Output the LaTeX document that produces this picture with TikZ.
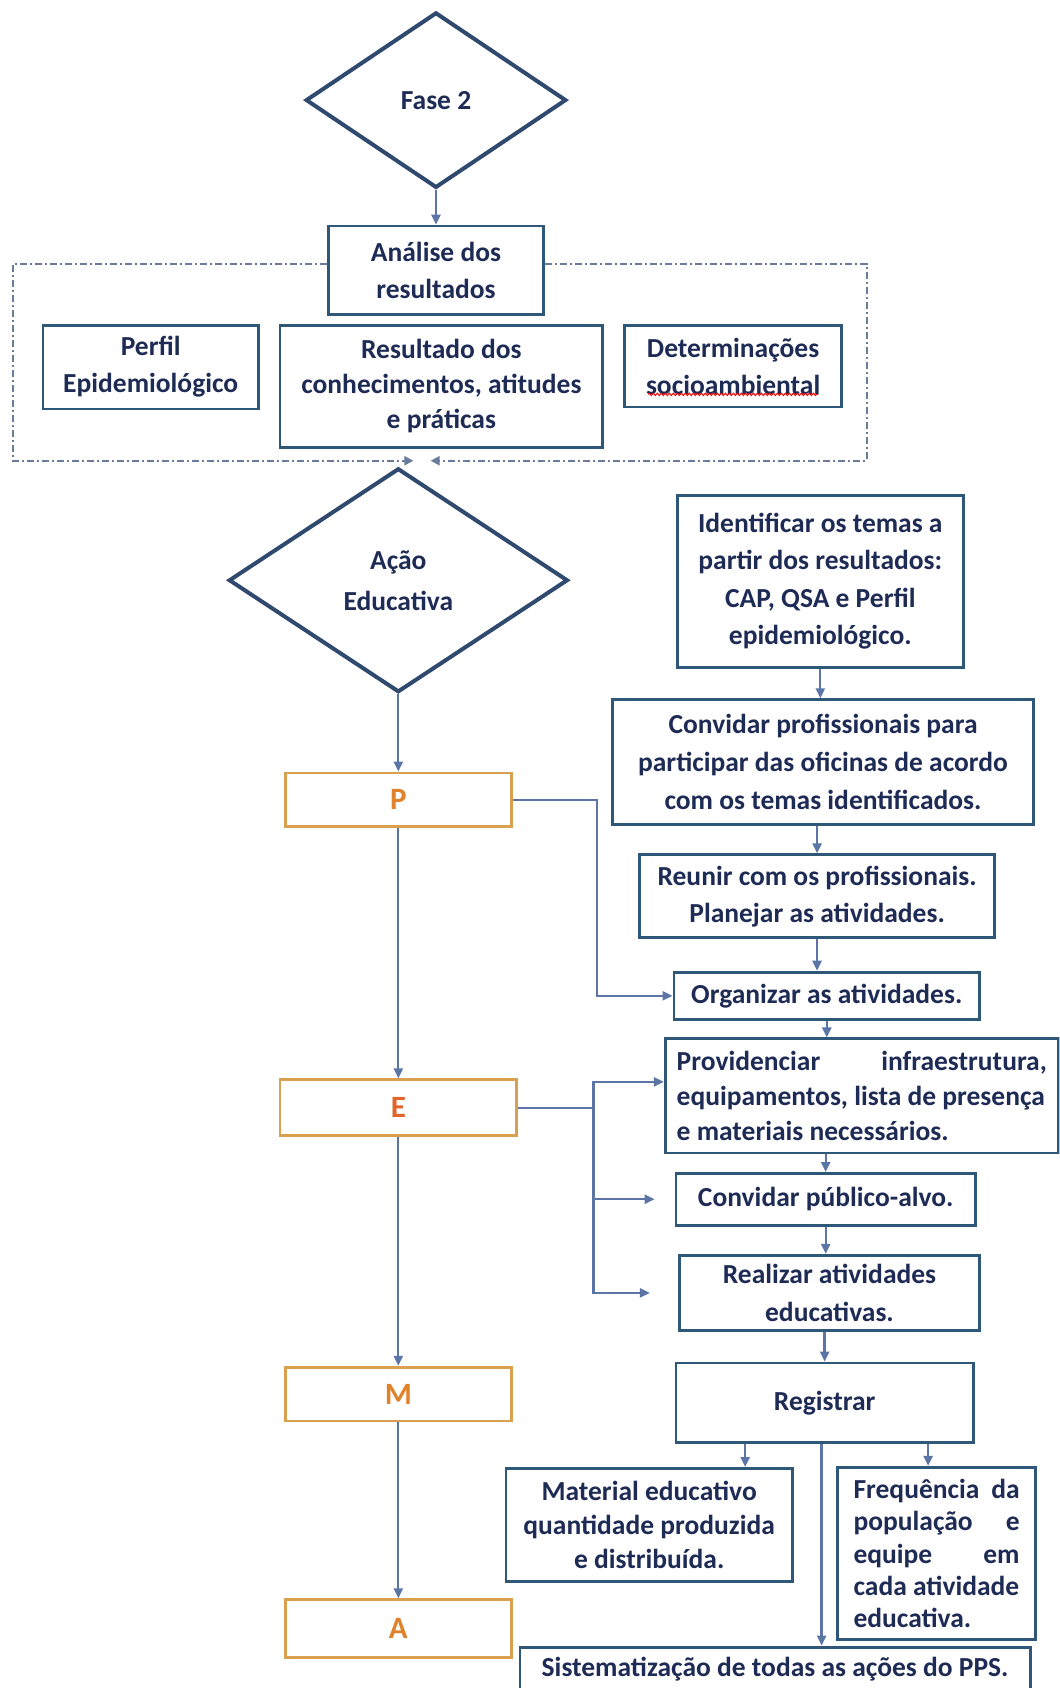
\documentclass[tikz,border=0pt]{standalone}
\usepackage{fontspec}
\setmainfont{Carlito}
\usetikzlibrary{shapes.geometric,arrows.meta,decorations.pathmorphing,calc}

\definecolor{boxline}{HTML}{2F5878}
\definecolor{linkc}{HTML}{5B76A6}
\definecolor{txt}{HTML}{1E2B55}
\definecolor{orangeline}{HTML}{D9A050}
\definecolor{orangetxt}{HTML}{E0822A}
\definecolor{redorange}{HTML}{E0652A}
\definecolor{dashc}{HTML}{6A7C9C}
\definecolor{diamc}{HTML}{2F4A6E}

% box from its two corners: [options]{name}{x1}{y1}{x2}{y2}{text}
\newcommand\bxn[7][]{%
  \node[box,#1,minimum width={(#5-#3)*1.0762pt},minimum height={(#6-#4)*1.0762pt}]
    (#2) at ({(#3+#5)/2},{(#4+#6)/2}) {#7};}

\begin{document}
\begin{tikzpicture}[x=1.0762pt,y=-1.0762pt,
  box/.style={draw=boxline,line width=2.8pt,fill=white,text=txt,
    font=\bfseries\fontsize{27.5}{37}\selectfont,align=center,inner sep=0pt},
  pbox/.style={box,draw=orangeline,text=orangetxt,font=\bfseries\fontsize{31}{37}\selectfont},
  diam/.style={diamond,draw=diamc,line width=4pt,fill=white,text=txt,
    font=\bfseries\fontsize{27.5}{41}\selectfont,align=center,inner sep=0pt},
  link/.style={draw=linkc,line width=2.3pt,-{Triangle[length=10pt,width=9pt]}},
  plain/.style={draw=linkc,line width=2.3pt},
  dashb/.style={draw=dashc,line width=2.2pt,dash pattern=on 7pt off 3pt on 2pt off 3pt,
    -{Triangle[length=9pt,width=9pt]}}]

\useasboundingbox (0,0) rectangle (984,1568);
\clip (0,0) rectangle (984,1568);

% ---- phase 2 and analysis of results
\node[diam,minimum width={242*1.0762pt},minimum height={163*1.0762pt}] (fase) at (405,93) {Fase 2};
\bxn{anal}{305}{210}{505}{292}{Análise dos\\resultados}
\bxn{perf}{40}{302}{240}{380}{Perfil\\Epidemiológico}
\bxn[font=\bfseries\fontsize{27.5}{35}\selectfont]{resu}{260}{302}{560}{416}{Resultado dos\\conhecimentos, atitudes\\e práticas}
\bxn{dete}{580}{302}{782}{378}{Determinações\\socioambiental}
\draw[red,line width=1pt,decorate,decoration={snake,amplitude=1.2pt,segment length=4pt}]
  ($(dete.south)+(-79,-13)$) -- ($(dete.south)+(79,-13)$);

\coordinate (encTL) at (12,245);
\coordinate (encBR) at (805,428);
\coordinate (encmid) at (392,428);

\draw[link] (fase.south) -- (anal.north);
\draw[dashb] (anal.west |- encTL) -- (encTL) |- ($(encmid)+(-8,0)$);
\draw[dashb] (anal.east |- encTL) -| (encBR) -- ($(encmid)+(8,0)$);

% ---- educational action, PEMA column
\node[diam,minimum width={315*1.0762pt},minimum height={208*1.0762pt}] (acao) at (370,539) {Ação\\Educativa};
\bxn[pbox]{P}{265}{718}{475}{768}{P}
\bxn[pbox,text=redorange]{E}{260}{1003}{480}{1055}{E}
\bxn[pbox]{M}{265}{1270}{475}{1320}{M}
\bxn[pbox]{A}{265}{1486}{475}{1540}{A}

\draw[link] (acao.south) -- (P.north);
\draw[link] (P.south) -- (E.north);
\draw[link] (E.south) -- (M.north);
\draw[link] (M.south) -- (A.north);

% ---- planning and execution steps
\bxn[font=\bfseries\fontsize{27.5}{37.5}\selectfont]{iden}{629}{460}{895}{620}{Identificar os temas a\\partir dos resultados:\\CAP, QSA e Perfil\\epidemiológico.}
\bxn[font=\bfseries\fontsize{27.5}{38}\selectfont]{conv}{569}{650}{960}{766}{Convidar profissionais para\\participar das oficinas de acordo\\com os temas identificados.}
\bxn{reun}{594}{794}{924}{871}{Reunir com os profissionais.\\Planejar as atividades.}
\bxn{orga}{626}{903}{910}{947}{Organizar as atividades.}
\bxn[align=left,font=\bfseries\fontsize{27.5}{35}\selectfont]{prov}{618}{965}{983}{1071}{\hbox to 370pt{Providenciar\hfill infraestrutura,}\\equipamentos, lista de presença\\e materiais necessários.}
\bxn{cpub}{628}{1090}{906}{1138}{Convidar público-alvo.}
\bxn{real}{631}{1166}{910}{1236}{Realizar atividades\\educativas.}
\bxn{regi}{628}{1266}{904}{1340}{Registrar}
\bxn[font=\bfseries\fontsize{27.5}{34}\selectfont]{mate}{470}{1364}{736}{1469}{Material educativo\\quantidade produzida\\e distribuída.}
\bxn[align=left,font=\bfseries\fontsize{27.5}{32}\selectfont]{freq}{778}{1363}{962}{1523}{\hbox to 166pt{Frequência\hfill da}\\\hbox to 166pt{população\hfill e}\\\hbox to 166pt{equipe\hfill em}\\cada atividade\\educativa.}
\bxn{sist}{483}{1530}{957}{1571}{Sistematização de todas as ações do PPS.}

\draw[link] (iden.south) -- (iden.south |- conv.north);
\draw[link] (reun.north |- conv.south) -- (reun.north);
\draw[link] (reun.south) -- (reun.south |- orga.north);
\draw[link] (orga.south) -- (orga.south |- prov.north);
\draw[link] (cpub.north |- prov.south) -- (cpub.north);
\draw[link] (cpub.south) -- (cpub.south |- real.north);
\draw[link] (regi.north |- real.south) -- (regi.north);

\draw[link] ($(regi.south west)!0.235!(regi.south east)$) coordinate (r1) -- (r1 |- mate.north);
\draw[link] ($(regi.south west)!0.845!(regi.south east)$) coordinate (r3) -- (r3 |- freq.north);
\draw[link] ($(regi.south west)!0.49!(regi.south east)$) coordinate (r2) -- (r2 |- sist.north);

% ---- branches from P and E
\draw[link] (P.east) -- ++(78,0) |- (orga.west);
\draw[plain] (E.east) -- ++(70,0) coordinate (ej);
\draw[link] (ej) |- ($(prov.north west)!0.38!(prov.south west)$);
\draw[link,shorten >=20pt] (ej) |- (cpub.west);
\draw[link,shorten >=28pt] (ej) |- (real.west);
\end{tikzpicture}
\end{document}
